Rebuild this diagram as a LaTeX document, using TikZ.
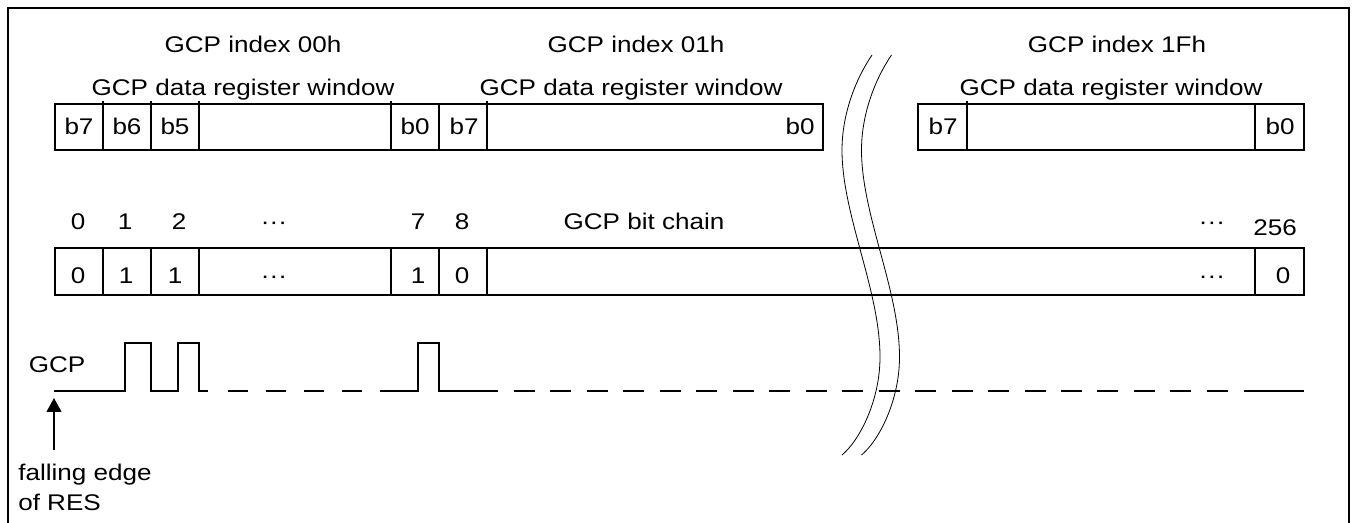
\documentclass[tikz,border=0pt]{standalone}
\usepackage{fontspec}
\setmainfont{Liberation Sans}[FakeStretch=1.15]
\usetikzlibrary{arrows.meta}
\begin{document}
\begin{tikzpicture}[x=0.75pt,y=-0.75pt,
  txt/.style={font=\fontsize{17}{20}\selectfont, inner sep=0pt, anchor=base},
  note/.style={font=\fontsize{17}{22.5}\selectfont, inner sep=0pt, align=left, anchor=north west},
  boxline/.style={line width=1.5pt},
  divline/.style={line width=1pt},
  wave/.style={line width=1.6pt},
  wavedashL/.style={wave, dash pattern=on 15pt off 13.5pt},
  wavedashR/.style={wave, dash pattern=on 15.75pt off 11.6pt},
  brk/.style={line width=0.6pt},
  frameline/.style={line width=1.6pt}]
\useasboundingbox (0,0) rectangle (1356,523);

% frame (open at bottom)
\draw[frameline] (8,523) -- (8,8) -- (1349,8) -- (1349,523);

% ---- register windows ----
\draw[boxline] (55,104) rectangle (439,150);
\draw[boxline] (439,104) rectangle (823,150);
\draw[boxline] (918,104) rectangle (1304,150);
\foreach \x in {103,151,199,391,487,967} \draw[divline] (\x,101) -- (\x,150);
\draw[divline] (1255,104) -- (1255,150);

\node[txt] (idx0)  at (253,53)  {GCP index 00h};
\node[txt] (idx1)  at (636,53)  {GCP index 01h};
\node[txt] (idx1f) at (1117,53) {GCP index 1Fh};
\node[txt] (win0)  at (243,96)  {GCP data register window};
\node[txt] (win1)  at (631,96)  {GCP data register window};
\node[txt] (win1f) at (1111,96) {GCP data register window};

\node[txt] (ra7) at (79,135)  {b7};
\node[txt] (ra6) at (127,135) {b6};
\node[txt] (ra5) at (175,135) {b5};
\node[txt] (ra0) at (415,135) {b0};
\node[txt] (rb7) at (464,135) {b7};
\node[txt] (rb0) at (800,135) {b0};
\node[txt] (rc7) at (943,135) {b7};
\node[txt] (rc0) at (1280,135) {b0};

% ---- bit chain ----
\draw[boxline] (55,248) rectangle (1304,295);
\foreach \x in {103,151,199,391,439,487,1255} \draw[divline] (\x,248) -- (\x,295);

\node[txt] (n0)   at (78,230)   {0};
\node[txt] (n1)   at (125,230)  {1};
\node[txt] (n2)   at (179,230)  {2};
\node[txt] (ndl)  at (274,230)  {···};
\node[txt] (n7)   at (418,230)  {7};
\node[txt] (n8)   at (462,230)  {8};
\node[txt] (chain) at (644,230) {GCP bit chain};
\node[txt] (ndr)  at (1212,230) {···};
\node[txt] (n256) at (1275,236) {256};

\node[txt] (v0)   at (78,284)   {0};
\node[txt] (v1)   at (126,284)  {1};
\node[txt] (v2)   at (175,284)  {1};
\node[txt] (vdl)  at (274,284)  {···};
\node[txt] (v7)   at (418,284)  {1};
\node[txt] (v8)   at (462,284)  {0};
\node[txt] (vdr)  at (1212,284) {···};
\node[txt] (v256) at (1283,284) {0};

% ---- GCP waveform ----
\node[txt] (gcp) at (57,373) {GCP};
\draw[wave] (54,391) -- (125,391) -- (125,343) -- (151,343) -- (151,391) -- (178,391)
  -- (178,343) -- (199,343) -- (199,391) -- (208,391);
\draw[wavedashL] (228,391) -- (362,391);
\draw[wave] (380,391) -- (418,391) -- (418,343) -- (439,343) -- (439,391) -- (498,391);
\draw[wavedashR] (514,391) -- (1228,391);
\draw[wave] (1244,391) -- (1304,391);

% ---- falling edge arrow ----
\node[note] (res) at (18,464) {falling edge\\of RES};
\coordinate (atail) at (54,450);
\coordinate (w0) at (54,398);
\draw[wave, -{Triangle[length=10.5pt,width=11pt]}] (atail) -- (w0);

% ---- break marks ----
\foreach \d in {0,19.5} {
  \draw[brk] ({872+\d},55) .. controls ({855+\d},80) and ({842+\d},115) .. ({842+\d},150)
    .. controls ({842+\d},215) and ({880+\d},290) .. ({880+\d},357)
    .. controls ({880+\d},400) and ({860+\d},440) .. ({842+\d},455);
}
\end{tikzpicture}
\end{document}
